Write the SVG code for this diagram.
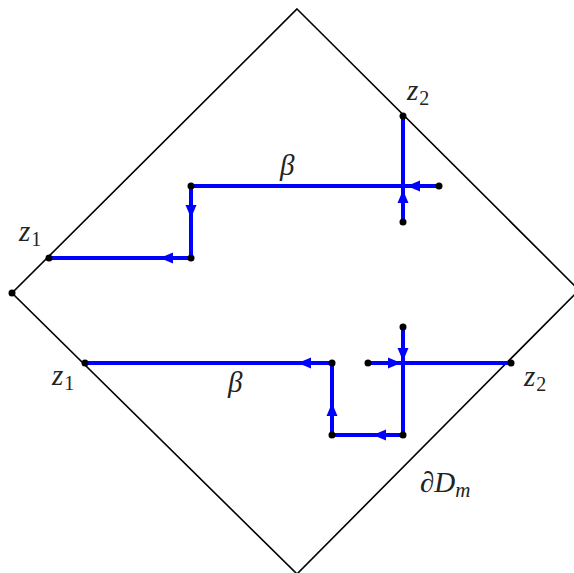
<svg xmlns="http://www.w3.org/2000/svg" width="574" height="573" viewBox="0 0 574 573">
<style>
.edge{fill:none;stroke:#000;stroke-width:1.6}
.path{fill:none;stroke:#0000ff;stroke-width:4;stroke-linecap:butt}
.ah{fill:#0000ff}
.dot{fill:#000}
.lbl{font-family:"Liberation Serif","DejaVu Serif",serif;font-style:italic;font-size:29px;fill:#222}
.sub{font-family:"Liberation Serif","DejaVu Serif",serif;font-style:normal;font-size:20px;fill:#222}
.subi{font-family:"Liberation Serif","DejaVu Serif",serif;font-style:italic;font-size:21px;fill:#222}
</style>
<defs>
<path id="ah" d="M0,0 L-13,-5.5 L-13,5.5 Z"/>
</defs>
<g id="boundary">
<polygon class="edge" points="297,9 579,290 297,574 12,293"/>
</g>
<g id="connectors">
<polyline class="path" points="49,258 191,258 191,186 403,186"/>
<line class="path" x1="403" y1="116" x2="403" y2="222"/>
<line class="path" x1="403" y1="186" x2="439" y2="186"/>
<polyline class="path" points="85,363 332,363 332,435 403,435 403,327"/>
<line class="path" x1="368" y1="363" x2="511" y2="363"/>
<use href="#ah" class="ah" transform="translate(160,258) rotate(180)"/>
<use href="#ah" class="ah" transform="translate(191,218) rotate(90)"/>
<use href="#ah" class="ah" transform="translate(407,186) rotate(180)"/>
<use href="#ah" class="ah" transform="translate(403,190) rotate(-90)"/>
<use href="#ah" class="ah" transform="translate(298,363) rotate(180)"/>
<use href="#ah" class="ah" transform="translate(332,403) rotate(-90)"/>
<use href="#ah" class="ah" transform="translate(373,435) rotate(180)"/>
<use href="#ah" class="ah" transform="translate(403,361) rotate(90)"/>
<use href="#ah" class="ah" transform="translate(401,363)"/>
</g>
<g id="dots">
<circle class="dot" cx="12" cy="293" r="3.5"/>
<circle class="dot" cx="49" cy="258" r="3.5"/>
<circle class="dot" cx="191" cy="258" r="3.5"/>
<circle class="dot" cx="191" cy="186" r="3.5"/>
<circle class="dot" cx="403" cy="116" r="3.5"/>
<circle class="dot" cx="439" cy="186" r="3.5"/>
<circle class="dot" cx="403" cy="222" r="3.5"/>
<circle class="dot" cx="85" cy="363" r="3.5"/>
<circle class="dot" cx="332" cy="363" r="3.5"/>
<circle class="dot" cx="332" cy="435" r="3.5"/>
<circle class="dot" cx="403" cy="435" r="3.5"/>
<circle class="dot" cx="403" cy="327" r="3.5"/>
<circle class="dot" cx="368" cy="363" r="3.5"/>
<circle class="dot" cx="511" cy="363" r="3.5"/>
</g>
<g id="labels">
<text class="lbl" x="19" y="241">z<tspan class="sub" dx="1" dy="5">1</tspan></text>
<text class="lbl" x="407" y="100">z<tspan class="sub" dx="1" dy="5">2</tspan></text>
<text class="lbl" x="280" y="175">β</text>
<text class="lbl" x="52" y="385">z<tspan class="sub" dx="1" dy="5">1</tspan></text>
<text class="lbl" x="228" y="392">β</text>
<text class="lbl" x="524" y="386">z<tspan class="sub" dx="1" dy="5">2</tspan></text>
<text class="lbl" x="420" y="492">∂D<tspan class="subi" dx="0" dy="5">m</tspan></text>
</g>
</svg>
